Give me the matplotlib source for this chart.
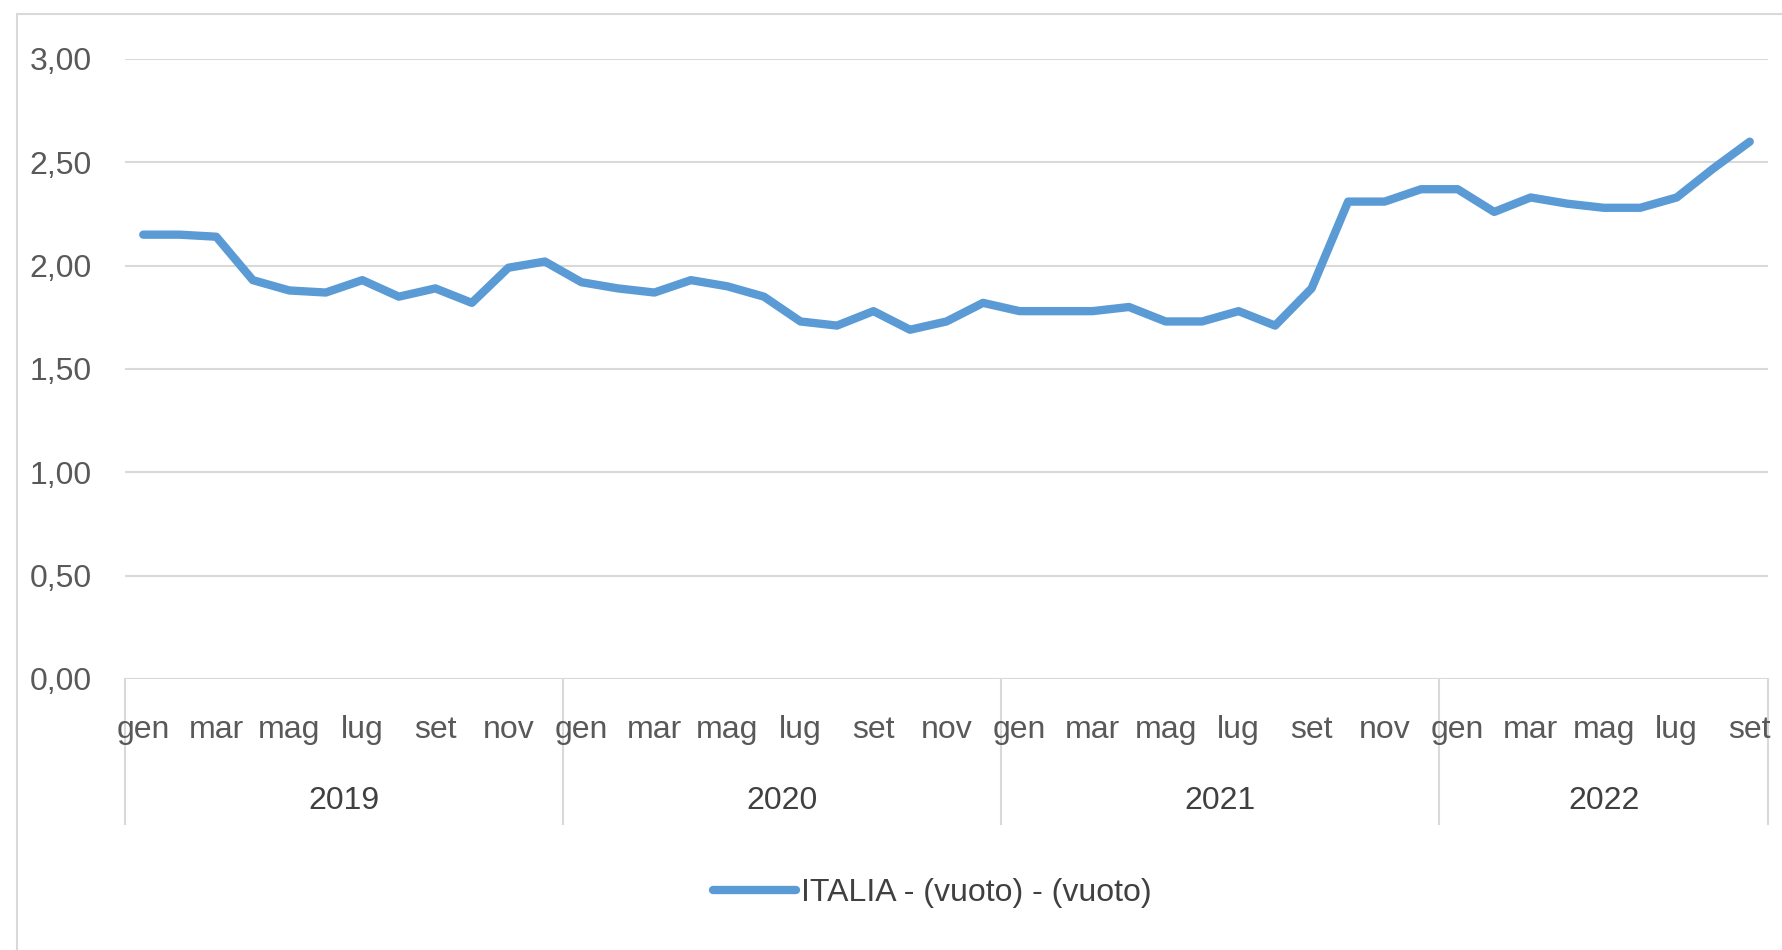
import matplotlib
matplotlib.use("Agg")
import matplotlib.pyplot as plt
import matplotlib.transforms as mtransforms
from matplotlib.patches import Rectangle
import numpy as np

plt.rcParams['font.family'] = ['Liberation Sans Narrow', 'Liberation Sans', 'DejaVu Sans']

# monthly values, gen 2019 - set 2022
years = ["2019", "2020", "2021", "2022"]
months = ["gen", "feb", "mar", "apr", "mag", "giu",
          "lug", "ago", "set", "ott", "nov", "dic"]
n_months = [12, 12, 12, 9]
values = [
    2.15, 2.15, 2.14, 1.93, 1.88, 1.87, 1.93, 1.85, 1.89, 1.82, 1.99, 2.02,
    1.92, 1.89, 1.87, 1.93, 1.90, 1.85, 1.73, 1.71, 1.78, 1.69, 1.73, 1.82,
    1.78, 1.78, 1.78, 1.80, 1.73, 1.73, 1.78, 1.71, 1.89, 2.31, 2.31, 2.37,
    2.37, 2.26, 2.33, 2.30, 2.28, 2.28, 2.33, 2.47, 2.60,
]
series_name = "ITALIA - (vuoto) - (vuoto)"

FS = 23
W, H = 1783, 950
fig = plt.figure(figsize=(W / 100, H / 100), dpi=100)
ax = fig.add_axes([125 / W, (H - 679) / H, 1643 / W, 620 / H])

# chart area border (partly off canvas)
fig.patches.append(Rectangle((17 / W, -0.1), 1.2, (H - 14) / H + 0.1,
                             transform=fig.transFigure, fill=False,
                             edgecolor="#d9d9d9", lw=1.5))

x = np.arange(len(values))
line, = ax.plot(x, values, color="#5b9bd5", lw=6, solid_joinstyle="round",
                solid_capstyle="round", label=series_name, zorder=3)

ax.set_xlim(-0.5, len(values) - 0.5)
ax.set_ylim(0, 3.0)
yt = np.arange(0, 3.01, 0.5)
ax.set_yticks(yt, [f"{v:.2f}".replace(".", ",") for v in yt])
ax.tick_params(axis="y", length=0, pad=24, labelsize=FS, labelcolor="#595959")
ax.set_xticks([])
ax.grid(axis="y", color="#d9d9d9", lw=1.5)
ax.set_axisbelow(True)
for s in ax.spines.values():
    s.set_visible(False)

trans = mtransforms.blended_transform_factory(ax.transData, ax.transAxes)

# month labels (every other month) and year labels
labels = [months[i] for n in n_months for i in range(n)]
for i in range(0, len(values), 2):
    ax.text(x[i], -0.082, labels[i], transform=trans, ha="center", va="center",
            fontsize=FS, color="#595959")

start = 0
bounds = [0]
for y, n in zip(years, n_months):
    ax.text(start + (n - 1) / 2, -0.197, y, transform=trans, ha="center",
            va="center", fontsize=FS, color="#404040")
    start += n
    bounds.append(start)
for b in bounds:
    ax.plot([b - 0.5, b - 0.5], [0, -0.234], transform=trans, color="#d9d9d9",
            lw=1.5, clip_on=False)

fig.legend(handles=[line], loc="center", bbox_to_anchor=(932 / W, 57 / H),
           frameon=False, fontsize=FS, handlelength=2.6, handletextpad=0.15,
           labelcolor="#404040")

fig.savefig("out.png", dpi=100)
